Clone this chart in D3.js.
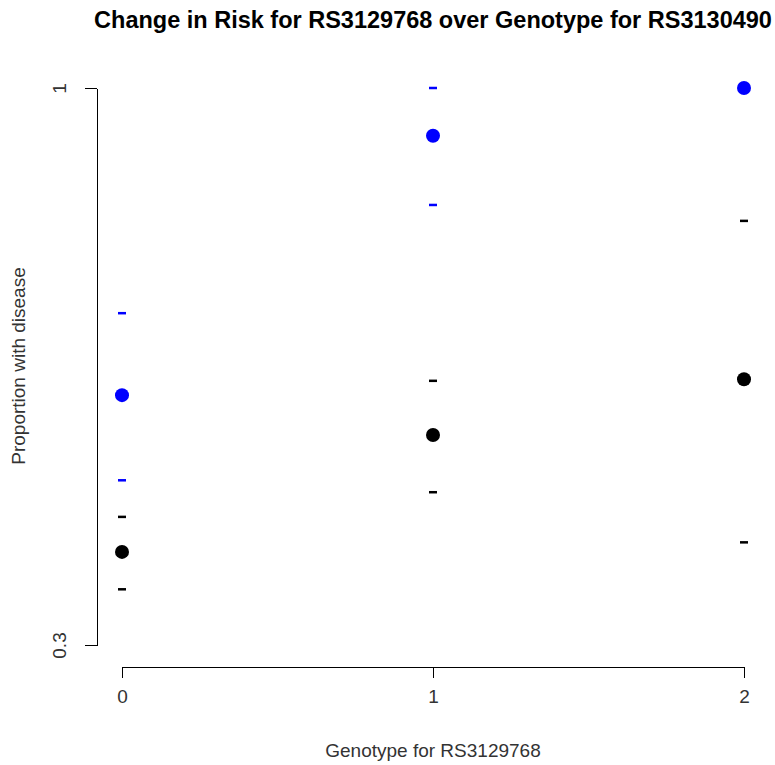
<!DOCTYPE html>
<html>
<head>
<meta charset="utf-8">
<title>Change in Risk</title>
<script src="https://cdn.jsdelivr.net/npm/d3@7"></script>
<style>
body { margin: 0; background: #fff; }
text { font-family: "Liberation Sans", Arial, sans-serif; }
.axis path, .axis line { stroke: #000; shape-rendering: crispEdges; }
.axis text { fill: #333; font-size: 19px; }
</style>
</head>
<body>
<script>

// data
var genotypes = [0, 1, 2];
var blueMean = [0.614, 0.940, 1.0];
var blueLow = [0.507, 0.853, null];
var blueHigh = [0.717, 1.0, null];
var blackMean = [0.417, 0.564, 0.634];
var blackLow = [0.370, 0.492, 0.429];
var blackHigh = [0.461, 0.632, 0.833];
var yTicks = [0.3, 1];

var width = 775, height = 765;

var x = d3.scaleLinear().domain([0, 2]).range([122, 744]);
var y = d3.scaleLinear().domain([0.3, 1]).range([645, 88]);

var svg = d3.select("body").append("svg")
    .attr("width", width)
    .attr("height", height);

// title
svg.append("text")
    .attr("x", 433)
    .attr("y", 28)
    .attr("text-anchor", "middle")
    .style("font-size", "23.5px")
    .style("font-weight", "bold")
    .text("Change in Risk for RS3129768 over Genotype for RS3130490");

// x axis
var xAxis = svg.append("g")
    .attr("class", "axis")
    .attr("transform", "translate(0,667)")
    .call(d3.axisBottom(x).tickValues(genotypes).tickFormat(d3.format("d")).tickSize(11).tickSizeOuter(0));
xAxis.selectAll("text").attr("y", 30).attr("dy", "0.32em");

// y axis
var yAxis = svg.append("g")
    .attr("class", "axis")
    .attr("transform", "translate(97,0)")
    .call(d3.axisLeft(y).tickValues(yTicks).tickFormat(function(d) { return d === 1 ? "1" : d; }).tickSize(12).tickSizeOuter(0));
yAxis.selectAll(".tick text")
    .attr("x", 0).attr("dy", 0)
    .attr("text-anchor", "middle")
    .attr("transform", "translate(-31,0) rotate(-90)");

// axis titles
svg.append("text")
    .attr("x", 433)
    .attr("y", 757)
    .attr("text-anchor", "middle")
    .style("font-size", "19px")
    .style("fill", "#333")
    .text("Genotype for RS3129768");

svg.append("text")
    .attr("transform", "translate(25,366) rotate(-90)")
    .attr("text-anchor", "middle")
    .style("font-size", "19px")
    .style("fill", "#333")
    .text("Proportion with disease");

function drawSeries(means, lows, highs, color) {
    var g = svg.append("g");
    var dashes = [];
    genotypes.forEach(function(gt, i) {
        if (lows[i] != null) dashes.push({g: gt, v: lows[i]});
        if (highs[i] != null) dashes.push({g: gt, v: highs[i]});
    });
    g.selectAll("rect.dash")
        .data(dashes)
      .enter().append("rect")
        .attr("class", "dash")
        .attr("x", function(d) { return x(d.g) - 4; })
        .attr("y", function(d) { return y(d.v) - 1.25; })
        .attr("width", 8)
        .attr("height", 2.5)
        .attr("fill", color);
    g.selectAll("circle")
        .data(genotypes)
      .enter().append("circle")
        .attr("cx", function(d) { return x(d); })
        .attr("cy", function(d, i) { return y(means[i]); })
        .attr("r", 7)
        .attr("fill", color);
}

drawSeries(blackMean, blackLow, blackHigh, "#000");
drawSeries(blueMean, blueLow, blueHigh, "#0000ff");

</script>
</body>
</html>
